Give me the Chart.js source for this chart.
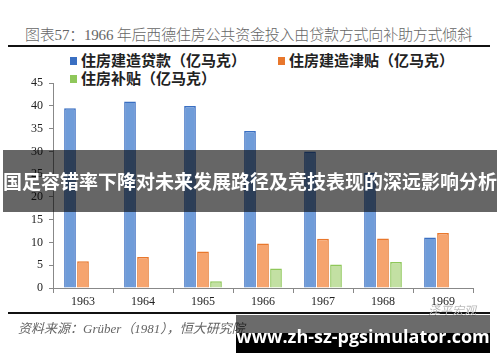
<!DOCTYPE html>
<html>
<head>
<meta charset="utf-8">
<script src="https://cdn.jsdelivr.net/npm/chart.js@4.4.1/dist/chart.umd.min.js"></script>
<style>
  html, body { margin: 0; padding: 0; background: #fff; }
  #wrap { position: relative; width: 500px; height: 362px; overflow: hidden; font-family: "Noto Sans CJK SC", sans-serif; }
  #title { position: absolute; left: 25px; top: 23px; font-size: 15px; color: #666; white-space: nowrap; font-family: "Liberation Serif", "Noto Sans CJK SC", serif; font-weight: 300; letter-spacing: -0.2px; }
  .rule { position: absolute; left: 8px; width: 482px; height: 2px; background: #111; }
  #legend { position: absolute; left: 70px; top: 49px; width: 420px; font-size: 15px; font-weight: 700; color: #222; }
  .item { position: absolute; white-space: nowrap; }
  .sw { display: inline-block; width: 7px; height: 8px; margin-right: 4px; vertical-align: 1px; }
  #chartBox { position: absolute; left: 0; top: 70px; width: 500px; height: 245px; }
  #source { position: absolute; left: 18px; top: 318px; font-size: 13px; font-style: italic; color: #666; white-space: nowrap; font-family: "Liberation Serif", "Noto Sans CJK SC", serif; }
  #mark { position: absolute; left: 428px; top: 301px; font-size: 12px; color: #bbb; font-style: italic; }
  #banner { position: absolute; left: 3px; top: 150px; width: 494px; height: 62px; background: rgba(0,0,0,0.6); color: #fff; font-size: 19px; font-weight: 700; line-height: 62px; text-align: center; white-space: nowrap; }
  #site { position: absolute; left: 236px; top: 315px; width: 254px; height: 38px; background: linear-gradient(to bottom, rgba(0,0,0,0.58) 0, rgba(0,0,0,0.58) 18px, #000 18px); color: #fff; font-family: "Open Sans", sans-serif; font-weight: 700; font-size: 18px; line-height: 42px; text-align: center; white-space: nowrap; }
</style>
</head>
<body>
<div id="wrap">
  <div id="title">图表57：1966 年后西德住房公共资金投入由贷款方式向补助方式倾斜</div>
  <div class="rule" style="top:45px"></div>
  <div id="legend"></div>
  <div id="chartBox"><canvas id="chart" width="500" height="245"></canvas></div>
  <div class="rule" style="top:312px"></div>
  <div id="mark">泽平宏观</div>
  <div id="source">资料来源：Grüber（1981），恒大研究院</div>
  <div id="banner">国足容错率下降对未来发展路径及竞技表现的深远影响分析</div>
  <div id="site">www.zh-sz-pgsimulator.com</div>
</div>
<script>
const years = ["1963", "1964", "1965", "1966", "1967", "1968", "1969"];
const loans = [39.5, 41, 40, 34.5, 30, 25.3, 11.1];
const buildSubsidy = [5.9, 6.8, 8, 9.8, 10.8, 10.9, 12.1];
const housingSubsidy = [null, null, 1.5, 4.3, 5.15, 5.7];
const yTicks = [0, 5, 10, 15, 20, 25, 30, 35, 40, 45];

const series = [
  { label: "住房建造贷款（亿马克）", data: loans, fill: "#6f9cd9", edge: "#3a6fc2" },
  { label: "住房建造津贴（亿马克）", data: buildSubsidy, fill: "#f6a46e", edge: "#e8772c" },
  { label: "住房补贴（亿马克）", data: housingSubsidy, fill: "#c3e0a3", edge: "#8fc75a" },
];

// legend built by hand, two columns like the original
const legendPos = [[0, 0], [208, 0], [0, 18]];
const legend = document.getElementById("legend");
series.forEach((s, i) => {
  const d = document.createElement("div");
  d.className = "item";
  d.style.left = legendPos[i][0] + "px";
  d.style.top = legendPos[i][1] + "px";
  d.innerHTML = '<span class="sw" style="background:' + s.edge + '"></span>' + s.label;
  legend.appendChild(d);
});

const tickFont = { family: "Liberation Serif", size: 12 };

new Chart(document.getElementById("chart"), {
  type: "bar",
  data: {
    labels: years,
    datasets: series.map((s) => ({
      label: s.label,
      data: s.data,
      backgroundColor: s.fill,
      borderColor: s.edge,
      borderWidth: 1.5,
      borderSkipped: "bottom",
      categoryPercentage: 0.65,
      barPercentage: 0.9,
    })),
  },
  options: {
    responsive: false,
    animation: false,
    layout: { padding: { top: 11, right: 27, left: 0, bottom: 0 } },
    plugins: { legend: { display: false }, tooltip: { enabled: false } },
    scales: {
      x: {
        grid: { display: true, drawOnChartArea: false, offset: true, tickLength: 5, color: "#888" },
        border: { color: "#888", width: 1 },
        ticks: { color: "#222", font: tickFont, padding: 2 },
        afterFit: (scale) => { scale.height = 27; },
      },
      y: {
        min: 0,
        max: 45,
        afterBuildTicks: (scale) => { scale.ticks = yTicks.map((v) => ({ value: v })); },
        grid: { display: true, drawOnChartArea: false, tickLength: 4, color: "#888" },
        border: { color: "#888", width: 1 },
        ticks: { color: "#222", font: tickFont, padding: 6 },
        afterFit: (scale) => { scale.width = 53; },
      },
    },
  },
});
</script>
</body>
</html>
